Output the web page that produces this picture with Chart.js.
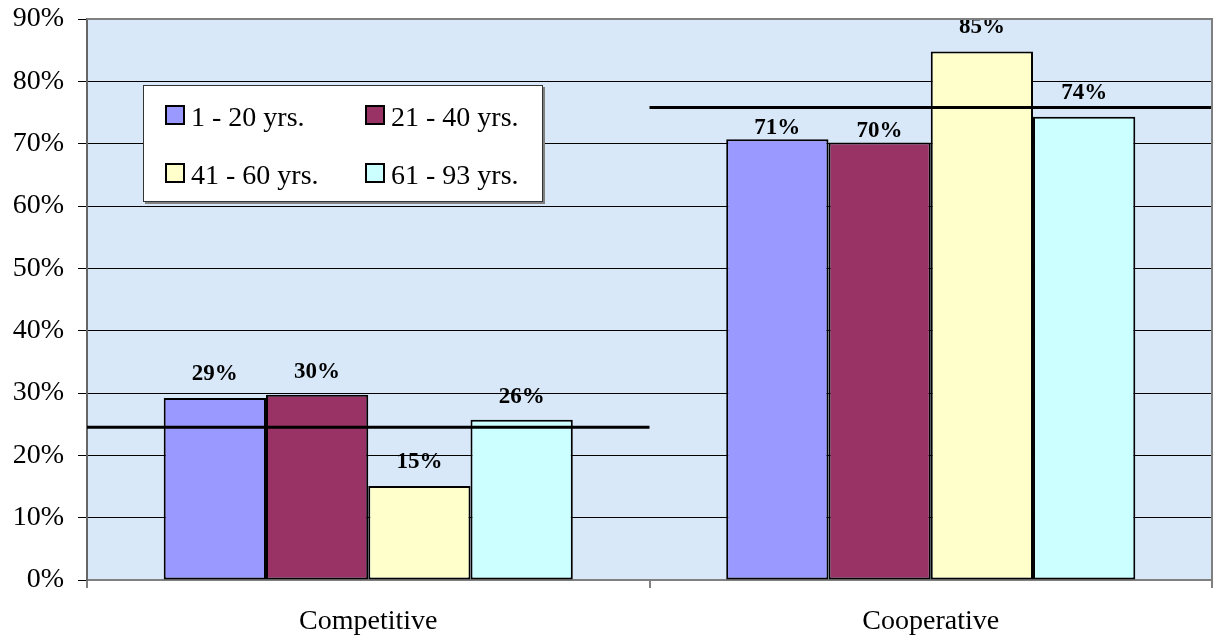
<!DOCTYPE html>
<html><head><meta charset="utf-8">
<script src="https://cdn.jsdelivr.net/npm/chart.js@4"></script>
<style>html,body{margin:0;padding:0;background:#fff}#wrap{width:1214px;height:643px;position:relative}</style>
</head><body><div id="wrap"><canvas id="c" width="1214" height="643"></canvas></div>
<script>
const categories = ['Competitive', 'Cooperative'];
const seriesLabels = ['1 - 20 yrs.', '21 - 40 yrs.', '41 - 60 yrs.', '61 - 93 yrs.'];
const age1to20 = [29.2, 70.7];
const age21to40 = [29.7, 70.2];
const age41to60 = [15.1, 84.8];
const age61to93 = [25.7, 74.3];
const groupAverages = [24.5, 75.8];
const seriesColors = ['#9999ff', '#993366', '#ffffcc', '#ccffff'];
const yTickValues = [0, 10, 20, 30, 40, 50, 60, 70, 80, 90];

const FONT = "'Liberation Serif', 'Times New Roman', serif";
const seriesValues = [age1to20, age21to40, age41to60, age61to93];

const bgPlugin = {
  id: 'bg',
  beforeDraw(chart) {
    const {ctx, chartArea: a} = chart;
    ctx.save();
    ctx.fillStyle = '#d8e8f9';
    ctx.fillRect(a.left, a.top, a.right - a.left, a.bottom - a.top);
    ctx.restore();
  }
};

const overlayPlugin = {
  id: 'overlay',
  afterDatasetsDraw(chart, args, opts) {
    const {ctx, chartArea: a} = chart;
    const x = chart.scales.x, y = chart.scales.y;
    ctx.save();
    const half = (x.getPixelForValue(1) - x.getPixelForValue(0)) / 2;
    ctx.strokeStyle = '#000';
    ctx.lineWidth = 3;
    groupAverages.forEach((v, i) => {
      const c = x.getPixelForValue(i);
      const py = y.getPixelForValue(v);
      ctx.beginPath();
      ctx.moveTo(c - half, py);
      ctx.lineTo(c + half, py);
      ctx.stroke();
    });
    ctx.fillStyle = '#000';
    ctx.font = 'bold 23px ' + FONT;
    ctx.textAlign = 'center';
    ctx.textBaseline = 'alphabetic';
    chart.data.datasets.forEach((ds, di) => {
      const meta = chart.getDatasetMeta(di);
      meta.data.forEach((bar, i) => {
        const gap = opts.labelGap[di][i];
        ctx.fillText(Math.round(ds.data[i]) + '%', bar.x, bar.y - gap);
      });
    });
    ctx.strokeStyle = '#808080';
    ctx.lineWidth = 2;
    ctx.beginPath();
    ctx.moveTo(a.left, a.top);
    ctx.lineTo(a.right, a.top);
    ctx.lineTo(a.right, a.bottom);
    ctx.stroke();
    ctx.restore();
  },
  afterDraw(chart) {
    const {ctx} = chart;
    ctx.save();
    const bx = 143, by = 85, bw = 400, bh = 117;
    ctx.fillStyle = '#808080';
    ctx.fillRect(bx + 2, by + 2, bw, bh);
    ctx.fillStyle = '#fff';
    ctx.fillRect(bx, by, bw, bh);
    ctx.strokeStyle = '#333';
    ctx.lineWidth = 1;
    ctx.strokeRect(bx + 0.5, by + 0.5, bw - 1, bh - 1);
    const cols = [165, 365];
    const rows = [115, 173];
    ctx.font = '28px ' + FONT;
    ctx.textAlign = 'left';
    ctx.textBaseline = 'alphabetic';
    seriesLabels.forEach((lab, i) => {
      const mx = cols[i % 2], my = rows[Math.floor(i / 2)];
      ctx.fillStyle = seriesColors[i];
      ctx.fillRect(mx + 1, my - 9, 18, 18);
      ctx.strokeStyle = '#000';
      ctx.lineWidth = 2;
      ctx.strokeRect(mx + 1, my - 9, 18, 18);
      ctx.fillStyle = '#000';
      ctx.fillText(lab, mx + 26, my + 11);
    });
    ctx.restore();
  }
};

new Chart(document.getElementById('c'), {
  type: 'bar',
  data: {
    labels: categories,
    datasets: seriesValues.map((vals, i) => ({
      label: seriesLabels[i],
      data: vals,
      backgroundColor: seriesColors[i],
      borderColor: '#000',
      borderWidth: 2,
      borderSkipped: false,
      categoryPercentage: 4 / 5.5,
      barPercentage: 1
    }))
  },
  options: {
    responsive: false,
    animation: false,
    layout: {padding: {top: 19, right: 2, left: 0, bottom: 0}},
    plugins: {
      legend: {display: false},
      tooltip: {enabled: false},
      overlay: {labelGap: [[18, 5], [17, 5], [18, 18], [17, 18]]}
    },
    scales: {
      x: {
        grid: {offset: true, drawOnChartArea: false, drawTicks: true, tickLength: 8, color: '#808080', lineWidth: 2},
        border: {color: '#808080', width: 2},
        ticks: {font: {family: FONT, size: 28}, color: '#000', padding: 17, maxRotation: 0},
        afterFit(s) { s.height = 63; s.paddingLeft = 0; s.paddingRight = 0; }
      },
      y: {
        min: 0, max: 90,
        afterBuildTicks(s) { s.ticks = yTickValues.map(v => ({value: v})); },
        grid: {color: '#000', lineWidth: 1, tickLength: 9},
        border: {color: '#666', width: 2},
        ticks: {font: {family: FONT, size: 28}, color: '#000', padding: 14, callback: v => v + '%'},
        afterFit(s) { s.width = 87; s.paddingTop = 0; s.paddingBottom = 0; }
      }
    }
  },
  plugins: [bgPlugin, overlayPlugin]
});
</script>
</body></html>
